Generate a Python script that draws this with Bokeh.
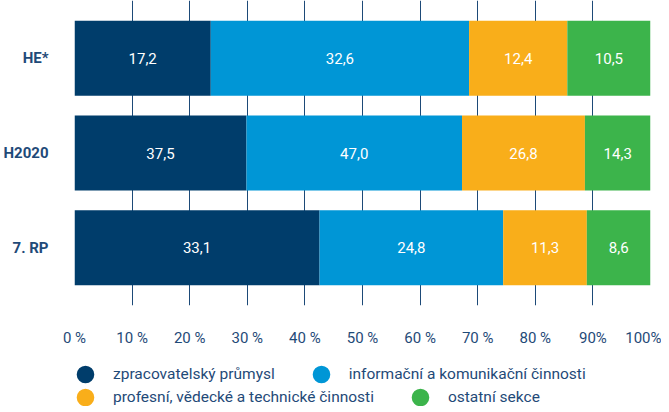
import math
from bokeh.plotting import figure
from bokeh.layouts import column
from bokeh.models import ColumnDataSource, FactorRange, Range1d, FixedTicker, Legend, LegendItem
from bokeh.core.properties import value
from bokeh.embed import file_html
from bokeh.resources import INLINE

# ---- data ----
programmes = ["HE*", "H2020", "7. RP"]
sectors = [
    "zpracovatelský průmysl",
    "informační a komunikační činnosti",
    "profesní, vědecké a technické činnosti",
    "ostatní sekce",
]
manufacturing = [17.2, 37.5, 33.1]
ict = [32.6, 47.0, 24.8]
professional = [12.4, 26.8, 11.3]
other = [10.5, 14.3, 8.6]
x_ticks = [0, 10, 20, 30, 40, 50, 60, 70, 80, 90, 100]
x_tick_labels = ["0 %", "10 %", "20 %", "30 %", "40 %", "50 %", "60 %", "70 %", "80 %", "90%", "100%"]

# ---- style ----
colors = ["#003d6b", "#0096d6", "#f9ae1a", "#3cb44b"]
FONT = "Roboto"
TEXT = "#1f4a78"
GRID = "#1d4a78"

series = [manufacturing, ict, professional, other]
totals = [sum(s[i] for s in series) for i in range(len(programmes))]

p = figure(
    y_range=FactorRange(factors=programmes[::-1], range_padding=0.0733),
    x_range=Range1d(0, 100),
    frame_width=576, frame_height=305,
    min_border_left=66, min_border_right=11, min_border_top=0, min_border_bottom=0,
    output_backend="svg", toolbar_location=None, tools="",
)
p.outline_line_color = None
p.background_fill_color = "white"

cum = [0.0] * len(programmes)
for k, s in enumerate(series):
    left = list(cum)
    right = [cum[i] + s[i] / totals[i] * 100 for i in range(len(programmes))]
    cum = right
    src = ColumnDataSource(dict(
        prog=programmes, left=left, right=right,
        mid=[(l + r) / 2 for l, r in zip(left, right)],
        label=[f"{v:.1f}".replace(".", ",") for v in s],
    ))
    p.hbar(y="prog", left="left", right="right", height=0.79, source=src,
           fill_color=colors[k], line_color=None)
    p.text(x="mid", y="prog", text="label", source=src, text_color="white",
           text_font=value(FONT), text_font_size="15px",
           text_align="center", text_baseline="middle")

# grid
p.ygrid.grid_line_color = None
p.xgrid.ticker = FixedTicker(ticks=x_ticks)
p.xgrid.grid_line_color = GRID
p.xgrid.grid_line_width = 1

# x axis
p.xaxis.ticker = FixedTicker(ticks=x_ticks)
p.xaxis.major_label_overrides = {t: l for t, l in zip(x_ticks, x_tick_labels)}
p.xaxis.axis_line_color = None
p.xaxis.major_tick_line_color = None
p.xaxis.minor_tick_line_color = None
p.xaxis.major_label_standoff = 17
p.xaxis.major_label_text_font = FONT
p.xaxis.major_label_text_font_size = "15px"
p.xaxis.major_label_text_color = TEXT

# y axis
p.yaxis.axis_line_color = None
p.yaxis.major_tick_line_color = None
p.yaxis.minor_tick_line_color = None
p.yaxis.major_label_standoff = 20
p.yaxis.major_label_text_font = FONT
p.yaxis.major_label_text_font_size = "15px"
p.yaxis.major_label_text_font_style = "bold"
p.yaxis.major_label_text_color = TEXT

# ---- legend strip (separate figure below; its frame aligns with the chart's) ----
lf = figure(
    width=653, height=57, x_range=Range1d(0, 1), y_range=Range1d(0, 1),
    x_axis_location=None, y_axis_location=None,
    min_border_left=0, min_border_right=0, min_border_top=0, min_border_bottom=0,
    output_backend="svg", toolbar_location=None, tools="",
)
lf.grid.visible = False
lf.outline_line_color = None

legend_renderers = []
for k in range(len(sectors)):
    r = lf.ellipse(x=[math.nan], y=[math.nan], width=18, height=18,
                   width_units="screen", height_units="screen",
                   fill_color=colors[k], line_color=None)
    legend_renderers.append(r)


def make_legend(idx, y):
    return Legend(
        items=[LegendItem(label=sectors[i], renderers=[legend_renderers[i]]) for i in idx],
        orientation="horizontal", location=(0, y),
        glyph_width=22, glyph_height=22, label_standoff=17, spacing=35,
        padding=0, margin=0, border_line_color=None, background_fill_alpha=0,
        label_text_font=FONT, label_text_font_size="15.5px", label_text_color=TEXT,
    )


lf.add_layout(make_legend([0, 1], 21))
lf.add_layout(make_legend([2, 3], -2))

open("out.html", "w").write(file_html(column(p, lf), INLINE))
